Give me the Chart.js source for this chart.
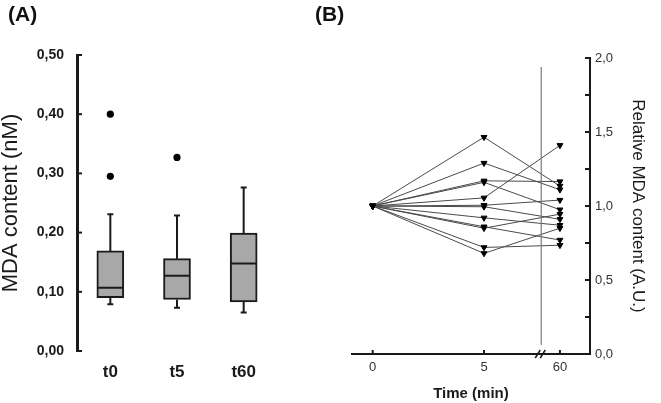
<!DOCTYPE html>
<html>
<head>
<meta charset="utf-8">
<script src="https://cdn.jsdelivr.net/npm/chart.js@4.4.1/dist/chart.umd.min.js"></script>
<style>
body{margin:0;background:#fff;font-family:"Liberation Sans",Arial,sans-serif}
#wrap{position:relative;width:661px;height:403px;overflow:hidden}
#cA{position:absolute;left:0;top:0}
#cB{position:absolute;left:330px;top:0}
.lab{position:absolute;top:2px;font-weight:bold;font-size:21px;color:#111;line-height:24px}
</style>
</head>
<body>
<div id="wrap">
  <canvas id="cA" width="330" height="403"></canvas>
  <canvas id="cB" width="331" height="403"></canvas>
  <div class="lab" style="left:8px">(A)</div>
  <div class="lab" style="left:315px">(B)</div>
</div>
<script>
// panel A - box plots of MDA content (nM)
var groups = ['t0', 't5', 't60']
var whiskerLow = [0.079, 0.073, 0.065]
var quart1 = [0.090, 0.087, 0.083]
var median = [0.107, 0.127, 0.148]
var quart3 = [0.169, 0.156, 0.199]
var whiskerHigh = [0.231, 0.229, 0.276]
var outlierGroup = ['t0', 't0', 't5']
var outlierValue = [0.400, 0.295, 0.327]

// panel B - relative MDA content per subject
var times = [0, 5, 60]
var rel0 = [1, 1, 1, 1, 1, 1, 1, 1, 1, 1, 1, 1]
var rel5 = [1.465, 1.29, 1.17, 1.16, 1.055, 1.005, 0.995, 0.92, 0.86, 0.85, 0.72, 0.68]
var rel60 = [1.135, 1.11, 1.165, 0.975, 1.41, 1.04, 0.91, 0.87, 0.77, 0.945, 0.735, 0.85]

var FONT = '"Liberation Sans", Arial, sans-serif'
var INK = '#1a1a1a'

function comma(v, d){ return v.toFixed(d).replace('.', ',') }

// small inward tick marks
function inwardTicks(scale, len, inward){
    var ctx = scale.ctx
    ctx.save()
    ctx.strokeStyle = INK
    ctx.lineWidth = 2
    scale.ticks.forEach(function(t){
        ctx.beginPath()
        if (scale.isHorizontal()) {
            var x = scale.getPixelForValue(t.value)
            ctx.moveTo(x, scale.top)
            ctx.lineTo(x, scale.top - len)
        } else {
            var y = scale.getPixelForValue(t.value)
            var x0 = scale.position === 'left' ? scale.right : scale.left
            ctx.moveTo(x0, y)
            ctx.lineTo(x0 + inward * len, y)
        }
        ctx.stroke()
    })
    ctx.restore()
}

var boxPlugin = {
    id: 'boxParts',
    afterDatasetsDraw: function(chart){
        var ctx = chart.ctx
        var xs = chart.scales.x, ys = chart.scales.y
        ctx.save()
        ctx.strokeStyle = INK
        ctx.lineWidth = 2
        groups.forEach(function(g, i){
            var x = xs.getPixelForValue(i)
            ctx.beginPath()
            ctx.moveTo(x, ys.getPixelForValue(quart3[i]))
            ctx.lineTo(x, ys.getPixelForValue(whiskerHigh[i]))
            ctx.moveTo(x - 3, ys.getPixelForValue(whiskerHigh[i]))
            ctx.lineTo(x + 3, ys.getPixelForValue(whiskerHigh[i]))
            ctx.moveTo(x, ys.getPixelForValue(quart1[i]))
            ctx.lineTo(x, ys.getPixelForValue(whiskerLow[i]))
            ctx.moveTo(x - 3, ys.getPixelForValue(whiskerLow[i]))
            ctx.lineTo(x + 3, ys.getPixelForValue(whiskerLow[i]))
            ctx.moveTo(x - 13, ys.getPixelForValue(median[i]))
            ctx.lineTo(x + 13, ys.getPixelForValue(median[i]))
            ctx.stroke()
        })
        ctx.restore()
        inwardTicks(ys, 5, 1)
    }
}

var boxes = groups.map(function(g, i){ return [quart1[i], quart3[i]] })
var outliers = outlierGroup.map(function(g, i){ return {x: g, y: outlierValue[i]} })

new Chart(document.getElementById('cA'), {
    type: 'bar',
    data: {
        labels: groups,
        datasets: [{
            data: boxes,
            backgroundColor: '#a8a8a8',
            borderColor: INK,
            borderWidth: 2,
            borderSkipped: false,
            barThickness: 27
        }, {
            type: 'line',
            data: outliers,
            showLine: false,
            pointRadius: 3.6,
            pointBackgroundColor: '#000',
            pointBorderWidth: 0
        }]
    },
    options: {
        responsive: false,
        animation: false,
        layout: {padding: {top: 55, right: 53, left: 0, bottom: 0}},
        plugins: {legend: {display: false}, tooltip: {enabled: false}},
        scales: {
            x: {
                offset: true,
                grid: {display: false, drawTicks: false},
                border: {display: false},
                ticks: {padding: 11, color: INK, font: {family: FONT, size: 17, weight: 'bold'}},
                afterFit: function(s){ s.height = 52 }
            },
            y: {
                min: 0, max: 0.5,
                grid: {drawOnChartArea: false, drawTicks: false},
                border: {display: true, color: INK, width: 3},
                ticks: {
                    stepSize: 0.1, padding: 13, color: INK,
                    font: {family: FONT, size: 14, weight: 'bold'},
                    callback: function(v){ return comma(v, 2) }
                },
                title: {
                    display: true, text: 'MDA content (nM)', color: INK,
                    padding: {top: 0, bottom: 0},
                    font: {family: FONT, size: 22, lineHeight: 1}
                },
                afterFit: function(s){ s.width = 77 }
            }
        }
    },
    plugins: [boxPlugin]
})

// broken time axis: 60 min is drawn just after the break
function timeAxis(t){ return t <= 5 ? t : 8.41 }

var lines = rel5.map(function(v, i){
    return {
        data: [
            {x: timeAxis(times[0]), y: rel0[i]},
            {x: timeAxis(times[1]), y: rel5[i]},
            {x: timeAxis(times[2]), y: rel60[i]}
        ],
        borderColor: '#4a4a4a',
        borderWidth: 1,
        pointStyle: 'triangle',
        pointRotation: 180,
        pointRadius: 3.4,
        pointBackgroundColor: '#000',
        pointBorderColor: '#000',
        pointBorderWidth: 1,
        tension: 0
    }
})

var breakPlugin = {
    id: 'axisBreak',
    afterDatasetsDraw: function(chart){
        var ctx = chart.ctx
        var xs = chart.scales.x, ys = chart.scales.y
        var bx = xs.getPixelForValue(7.57)
        ctx.save()
        ctx.strokeStyle = '#7a7a7a'
        ctx.lineWidth = 1.2
        ctx.beginPath()
        ctx.moveTo(bx, ys.getPixelForValue(1.94))
        ctx.lineTo(bx, ys.getPixelForValue(0.06))
        ctx.stroke()
        var by = ys.getPixelForValue(0)
        ctx.strokeStyle = INK
        ctx.lineWidth = 1.5
        ctx.beginPath()
        ctx.moveTo(bx - 6, by + 4)
        ctx.lineTo(bx - 1, by - 4)
        ctx.moveTo(bx - 1, by + 4)
        ctx.lineTo(bx + 4, by - 4)
        ctx.stroke()
        ctx.restore()
        inwardTicks(xs, 4, 1)
        inwardTicks(ys, 5, -1)
    }
}

new Chart(document.getElementById('cB'), {
    type: 'line',
    data: {datasets: lines},
    options: {
        responsive: false,
        animation: false,
        layout: {padding: {top: 58, right: 11, left: 22, bottom: 0}},
        plugins: {legend: {display: false}, tooltip: {enabled: false}},
        scales: {
            x: {
                type: 'linear',
                min: -0.93, max: 9.76,
                grid: {drawOnChartArea: false, drawTicks: false},
                border: {display: true, color: INK, width: 2},
                afterBuildTicks: function(s){
                    s.ticks = times.map(function(t){ return {value: timeAxis(t)} })
                },
                ticks: {
                    padding: 6, color: '#333',
                    font: {family: FONT, size: 13},
                    callback: function(v, i){ return String(times[i]) }
                },
                title: {
                    display: true, text: 'Time (min)', color: INK,
                    padding: {top: 0, bottom: 2},
                    font: {family: FONT, size: 15, weight: 'bold', lineHeight: 1}
                },
                afterFit: function(s){ s.height = 49 }
            },
            y: {
                position: 'right',
                min: 0, max: 2,
                grid: {drawOnChartArea: false, drawTicks: false},
                border: {display: true, color: INK, width: 2},
                ticks: {
                    stepSize: 0.25, padding: 5, color: '#333',
                    font: {family: FONT, size: 13},
                    callback: function(v){ return Math.abs(v * 2 - Math.round(v * 2)) < 1e-6 ? comma(v, 1) : '' }
                },
                title: {
                    display: true, text: 'Relative MDA content (A.U.)', color: INK,
                    padding: {top: 4, bottom: 0},
                    font: {family: FONT, size: 17, lineHeight: 1}
                },
                afterFit: function(s){ s.width = 60 }
            }
        }
    },
    plugins: [breakPlugin]
})
</script>
</body>
</html>
